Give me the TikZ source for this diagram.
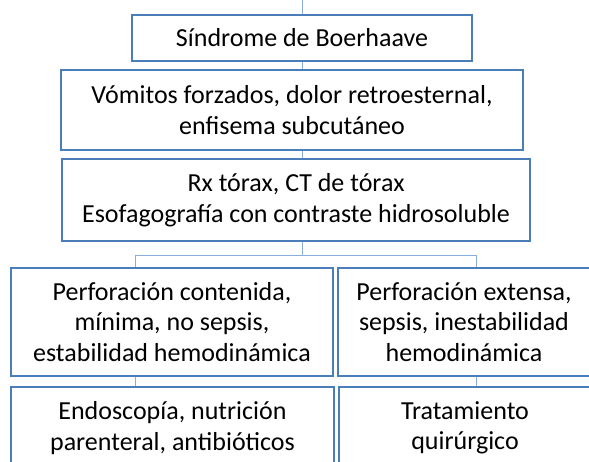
\documentclass[tikz,border=0pt]{standalone}
\usepackage{fontspec}
\setmainfont{Carlito}
\usetikzlibrary{positioning,calc}
\definecolor{boxblue}{HTML}{4A7EBB}
\definecolor{linkblue}{HTML}{8AAEDC}

\begin{document}
\begin{tikzpicture}[x=1pt, y=-1pt,
    box/.style={draw=boxblue, line width=2pt, fill=white, inner sep=0pt,
        align=center, font=\fontsize{26}{30.5}\selectfont},
    link/.style={draw=linkblue, line width=0.9pt}]
        \useasboundingbox (0,0) rectangle (589,461);
        \clip (0,0) rectangle (589,461);
        % Boxes
        \node [box, minimum width=340pt, minimum height=46pt] (sindrome) at (302,38) {Síndrome de Boerhaave};
        \node [box, minimum width=462pt, minimum height=80pt] (clinica) at (292,110)
            {Vómitos forzados, dolor retroesternal,\\ enfisema subcutáneo};
        \node [box, minimum width=468pt, minimum height=82pt] (pruebas) at (296,200)
            {Rx tórax, CT de tórax\\ Esofagografía con contraste hidrosoluble};
        \node [box, minimum width=322pt, minimum height=108pt] (contenida) at (172,322)
            {Perforación contenida,\\ mínima, no sepsis,\\ estabilidad hemodinámica};
        \node [box, minimum width=252pt, minimum height=108pt] (extensa) at (464,322)
            {Perforación extensa,\\ sepsis, inestabilidad\\ hemodinámica};
        \node [box, minimum width=323pt, minimum height=83pt] (conservador) at (172.5,428)
            {Endoscopía, nutrición\\ parenteral, antibióticos};
        \node [box, minimum width=252pt, minimum height=83pt] (cirugia) at (465,428)
            {Tratamiento\\ quirúrgico};
        % Bus
        \coordinate (top) at (302,0);
        \coordinate (busM) at (302,255);
        \coordinate (busL) at (135,255);
        \coordinate (busR) at (476,255);
        % Links
        \draw [link] (top) -- (sindrome.north);
        \draw [link] (sindrome.south) -- (sindrome.south |- clinica.north);
        \draw [link] (sindrome.south |- clinica.south) -- (sindrome.south |- pruebas.north);
        \draw [link] (sindrome.south |- pruebas.south) -- (busM);
        \draw [link] (busL) -- (busR);
        \draw [link] (busL) -- (busL |- contenida.north);
        \draw [link] (busR) -- (busR |- extensa.north);
        \draw [link] (busL |- contenida.south) -- (busL |- conservador.north);
        \draw [link] (busR |- extensa.south) -- (busR |- cirugia.north);
\end{tikzpicture}
\end{document}
